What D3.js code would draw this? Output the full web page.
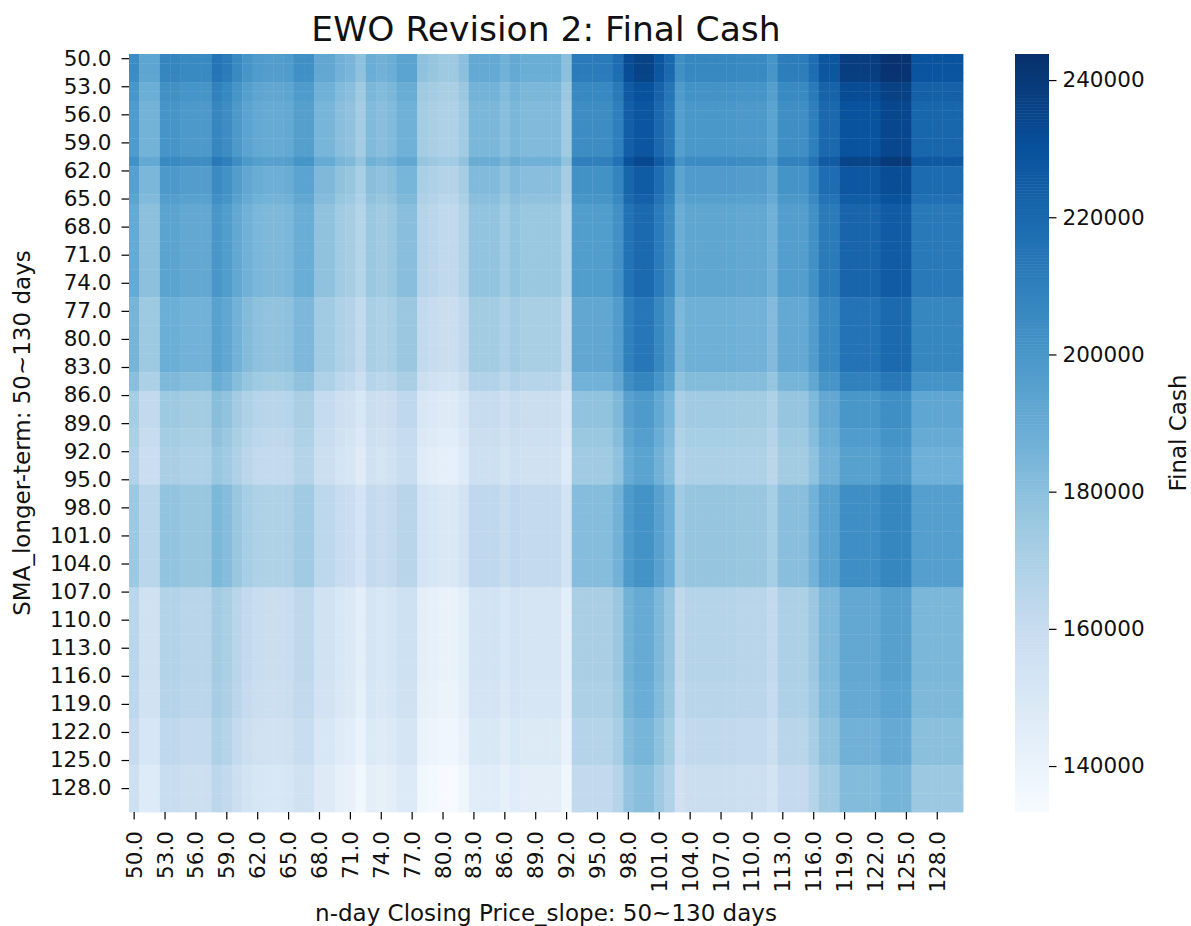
<!DOCTYPE html>
<html>
<head>
<meta charset="utf-8">
<script src="https://d3js.org/d3.v7.min.js"></script>
<style>
  body { margin: 0; background: #fff; }
  svg text { font-family: "DejaVu Sans", sans-serif; }
</style>
</head>
<body>
<svg width="1191" height="926"></svg>
<script>
// slope window (columns) and SMA window (rows): 50..130 days
var slopeDays = d3.range(50, 131);
var smaDays = d3.range(50, 131);

// final cash along the first row (SMA = 50), one per slope window
var topRowCash = [
  205000, 193000, 193000, 208000, 208000, 206000, 206000, 206000, 215000, 212000,
  206000, 201000, 198000, 197000, 197000, 198000, 203000, 203000, 192000, 192000,
  187000, 185000, 179000, 189000, 187000, 189000, 194000, 194000, 179000, 177000,
  175000, 175000, 180000, 191000, 191000, 191000, 187000, 191000, 189000, 189000,
  189000, 189000, 180000, 212000, 212000, 212000, 212000, 218000, 232000, 236000,
  236000, 228000, 220000, 203000, 207000, 207000, 207000, 207000, 207000, 206000,
  206000, 206000, 201000, 211000, 211000, 211000, 218000, 228000, 228000, 238000,
  238000, 238000, 238000, 242500, 242500, 242500, 229000, 229000, 229000, 229000,
  229000
];

// each SMA row relative to the first row
var rowScale = [
  1.000, 1.000, 0.998, 0.975, 0.975, 0.965, 0.965, 0.965, 0.965, 0.965,
  0.965, 0.990, 0.955, 0.955, 0.955, 0.945, 0.930, 0.930, 0.930, 0.930,
  0.930, 0.930, 0.930, 0.930, 0.930, 0.930, 0.905, 0.905, 0.905, 0.905,
  0.905, 0.905, 0.905, 0.905, 0.880, 0.880, 0.840, 0.840, 0.840, 0.840,
  0.830, 0.830, 0.820, 0.820, 0.820, 0.820, 0.855, 0.855, 0.855, 0.855,
  0.855, 0.855, 0.855, 0.855, 0.855, 0.855, 0.855, 0.805, 0.805, 0.805,
  0.805, 0.805, 0.805, 0.805, 0.805, 0.805, 0.805, 0.800, 0.800, 0.800,
  0.800, 0.785, 0.785, 0.785, 0.785, 0.785, 0.765, 0.765, 0.765, 0.765,
  0.765
];

var cbTicks = [140000, 160000, 180000, 200000, 220000, 240000];
var vmin = 133300, vmax = 243800;

var svg = d3.select("svg"),
    margin = {top: 54, left: 129},
    width = 834,
    height = 758;

// matplotlib "Blues"
var blues = ["#f7fbff", "#deebf7", "#c6dbef", "#9ecae1", "#6baed6",
             "#4292c6", "#2171b5", "#08519c", "#08306b"];
var color = d3.scaleLinear()
    .domain(d3.range(9).map(function(i) { return vmin + (vmax - vmin) * i / 8; }))
    .range(blues)
    .clamp(true);

var x = d3.scaleBand().domain(slopeDays).range([0, width]);
var y = d3.scaleBand().domain(smaDays).range([0, height]);

// build the grid cells
var cells = [];
smaDays.forEach(function(s, r) {
  slopeDays.forEach(function(n, c) {
    cells.push({sma: s, slope: n, cash: topRowCash[c] * rowScale[r]});
  });
});

var g = svg.append("g")
    .attr("transform", "translate(" + margin.left + "," + margin.top + ")");

g.selectAll("rect.cell")
  .data(cells)
  .enter().append("rect")
    .attr("class", "cell")
    .attr("x", function(d) { return x(d.slope); })
    .attr("y", function(d) { return y(d.sma); })
    .attr("width", x.bandwidth() + 0.4)
    .attr("height", y.bandwidth() + 0.4)
    .attr("fill", function(d) { return color(d.cash); });

// axes, every third label like seaborn
var every3 = function(v) { return (v - 50) % 3 === 0; };

var yAxis = g.append("g")
    .call(d3.axisLeft(y).tickValues(smaDays.filter(every3))
      .tickSize(7.5).tickPadding(10).tickFormat(function(d) { return d.toFixed(1); }));
yAxis.select(".domain").remove();
yAxis.selectAll("line").attr("stroke", "#000").attr("stroke-width", 1.2);
yAxis.selectAll("text").style("font-size", "21.5px").attr("fill", "#111");

var xAxis = g.append("g")
    .attr("transform", "translate(0," + height + ")")
    .call(d3.axisBottom(x).tickValues(slopeDays.filter(every3))
      .tickSize(7.5).tickFormat(function(d) { return d.toFixed(1); }));
xAxis.select(".domain").remove();
xAxis.selectAll("line").attr("stroke", "#000").attr("stroke-width", 1.2);
xAxis.selectAll("text")
    .style("font-size", "21.5px")
    .attr("fill", "#111")
    .attr("text-anchor", "end")
    .attr("transform", "rotate(-90)")
    .attr("x", -19)
    .attr("y", 0)
    .attr("dy", "0.35em");

// title
svg.append("text")
    .attr("x", margin.left + width / 2)
    .attr("y", 41)
    .attr("text-anchor", "middle")
    .style("font-size", "34.5px")
    .attr("fill", "#111")
    .text("EWO Revision 2: Final Cash");

// x label
svg.append("text")
    .attr("x", margin.left + width / 2)
    .attr("y", 921)
    .attr("text-anchor", "middle")
    .style("font-size", "23px")
    .attr("fill", "#111")
    .text("n-day Closing Price_slope: 50~130 days");

// y label
svg.append("text")
    .attr("transform", "translate(30," + (margin.top + height / 2) + ") rotate(-90)")
    .attr("text-anchor", "middle")
    .style("font-size", "23px")
    .attr("fill", "#111")
    .text("SMA_longer-term: 50~130 days");

// colorbar
var cbX = 1015, cbW = 34;
var cb = d3.scaleLinear().domain([vmin, vmax]).range([margin.top + height, margin.top]);
var steps = d3.range(0, 256);
svg.append("g").selectAll("rect")
  .data(steps)
  .enter().append("rect")
    .attr("x", cbX)
    .attr("width", cbW)
    .attr("y", function(i) { return cb(vmin + (vmax - vmin) * (i + 1) / 256); })
    .attr("height", height / 256 + 0.5)
    .attr("fill", function(i) { return color(vmin + (vmax - vmin) * (i + 0.5) / 256); });

var cbAxis = svg.append("g")
    .attr("transform", "translate(" + (cbX + cbW) + ",0)")
    .call(d3.axisRight(cb).tickValues(cbTicks).tickSize(7.5).tickPadding(6)
      .tickFormat(d3.format("d")));
cbAxis.select(".domain").remove();
cbAxis.selectAll("line").attr("stroke", "#000").attr("stroke-width", 1.2);
cbAxis.selectAll("text").style("font-size", "21.5px").attr("fill", "#111");

svg.append("text")
    .attr("transform", "translate(1186," + (margin.top + height / 2) + ") rotate(-90)")
    .attr("text-anchor", "middle")
    .style("font-size", "23px")
    .attr("fill", "#111")
    .text("Final Cash");
</script>
</body>
</html>
